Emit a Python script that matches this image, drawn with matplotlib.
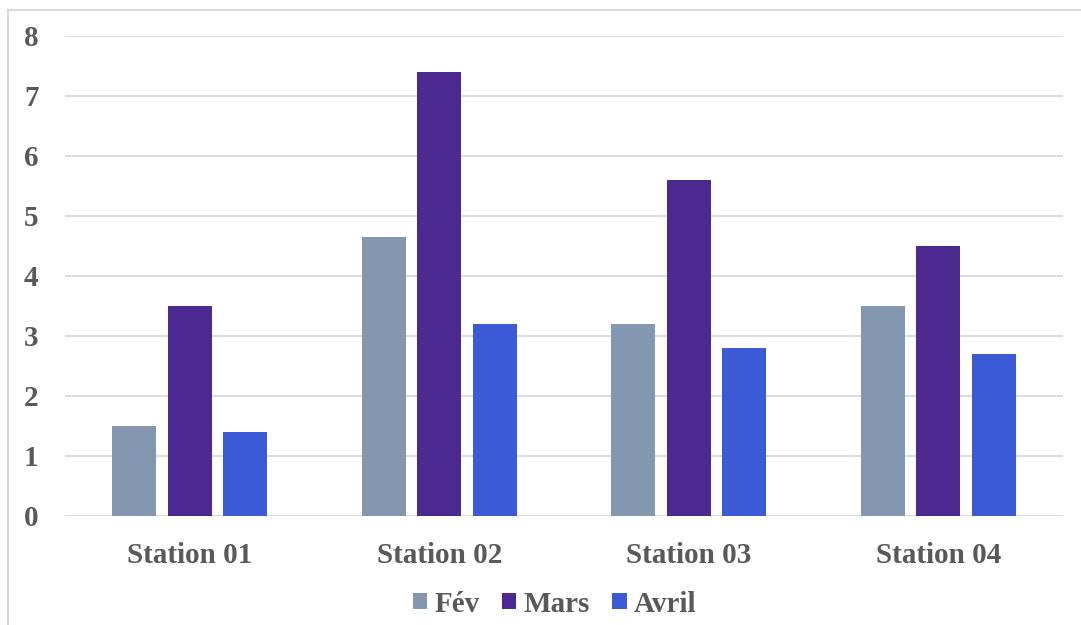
import matplotlib
matplotlib.use("Agg")
import matplotlib.pyplot as plt
from matplotlib.patches import Patch
from matplotlib.lines import Line2D
import numpy as np

categories = ["Station 01", "Station 02", "Station 03", "Station 04"]
series_names = ["Fév", "Mars", "Avril"]
fev = [1.5, 4.65, 3.2, 3.5]
mars = [3.5, 7.4, 5.6, 4.5]
avril = [1.4, 3.2, 2.8, 2.7]
yticks = [0, 1, 2, 3, 4, 5, 6, 7, 8]

colors = ["#8497B0", "#4B2991", "#3B5BD6"]
text_color = "#595959"
grid_color = "#D9D9D9"

plt.rcParams['font.family'] = ['Liberation Serif', 'DejaVu Serif']
plt.rcParams['font.weight'] = 'bold'

W, H = 1081, 625
fig = plt.figure(figsize=(W / 100, H / 100), dpi=100)
ax = fig.add_axes([65 / W, 1 - 516 / H, (1063 - 65) / W, (516 - 36) / H])

x = np.arange(len(categories))
bw = 0.1764
off = 0.2224
for i, (vals, c) in enumerate(zip([fev, mars, avril], colors)):
    ax.bar(x + (i - 1) * off, vals, width=bw, color=c, zorder=3, linewidth=0)

ax.set_xlim(-0.5, len(categories) - 0.5)
ax.set_ylim(0, 8)
ax.set_yticks(yticks)
ax.set_yticklabels([str(t) for t in yticks])
ax.set_xticks(x)
ax.set_xticklabels(categories)
ax.yaxis.grid(True, color=grid_color, linewidth=1.3, zorder=0)
ax.set_axisbelow(True)
for s in ax.spines.values():
    s.set_visible(False)
ax.axhline(0, color=grid_color, linewidth=1.3, zorder=2)
ax.tick_params(axis='y', length=0, pad=19, labelsize=21, labelcolor=text_color)
ax.tick_params(axis='x', length=0, pad=19, labelsize=21, labelcolor=text_color)
for lab in ax.get_xticklabels() + ax.get_yticklabels():
    lab.set_fontweight('bold')

handles = [Patch(facecolor=c, edgecolor='none', label=n) for c, n in zip(colors, series_names)]
leg = fig.legend(handles=handles, loc='center', bbox_to_anchor=(0.513, 1 - 604 / H), ncol=3,
                 frameon=False, fontsize=21, handlelength=0.5, handleheight=0.5,
                 handletextpad=0.25, columnspacing=0.75, borderaxespad=0, borderpad=0)
for t in leg.get_texts():
    t.set_color(text_color)
    t.set_fontweight('bold')

# outer chart border (top and left visible)
fig.add_artist(Line2D([8 / W, 1.0], [1 - 10 / H, 1 - 10 / H], color=grid_color, linewidth=1.5,
                      transform=fig.transFigure))
fig.add_artist(Line2D([8 / W, 8 / W], [0, 1 - 10 / H], color=grid_color, linewidth=1.5,
                      transform=fig.transFigure))

fig.savefig("out.png", dpi=100)
